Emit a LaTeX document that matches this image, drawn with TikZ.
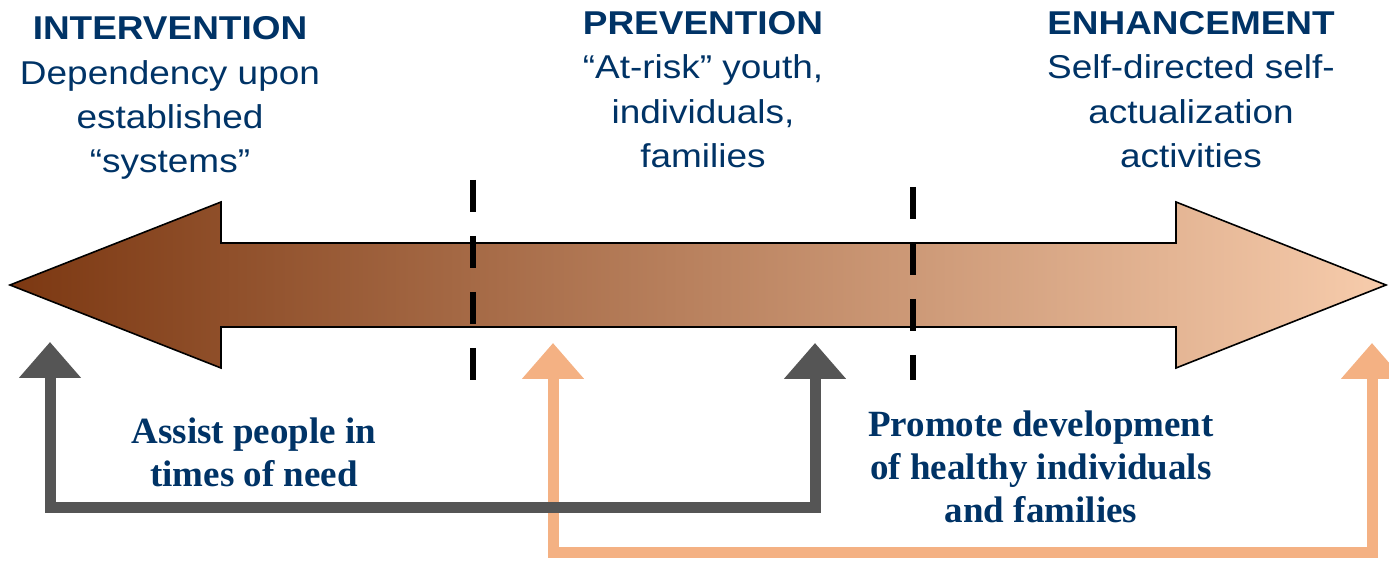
\documentclass[tikz,border=0pt]{standalone}
\usepackage{fontspec}
\setmainfont{Liberation Serif}
\newfontfamily\arialw[FakeStretch=1.12]{Liberation Sans}
\usetikzlibrary{arrows.meta}
\definecolor{navy}{RGB}{0,51,102}
\definecolor{arrgray}{RGB}{85,85,85}
\definecolor{arrorange}{RGB}{244,177,131}
\definecolor{brownL}{RGB}{124,56,18}
\definecolor{brownR}{RGB}{247,204,172}
\begin{document}
\begin{tikzpicture}[x=0.5pt,y=-0.5pt,
  headtxt/.style={font=\arialw\bfseries\fontsize{16.5}{20}\selectfont, text=navy, anchor=base, inner sep=0pt},
  bodytxt/.style={font=\arialw\fontsize{16.5}{20}\selectfont, text=navy, anchor=base, inner sep=0pt},
  notetxt/.style={font=\bfseries\fontsize{18.5}{22}\selectfont, text=navy, anchor=base, inner sep=0pt},
  divider/.style={line width=3.2pt, dash pattern=on 16pt off 12pt},
  loopline/.style={line width=5.5pt, {Triangle[width=30pt,length=18pt]}-{Triangle[width=30pt,length=18pt]}},
  bigarrow/.style={left color=brownL, right color=brownR, draw=black, line width=0.8pt}
]
\useasboundingbox (0,0) rectangle (1389,561);

% main double arrow
\shadedraw[bigarrow] (10,285) -- (221,202) -- (221,243) -- (1176,243) -- (1176,202)
  -- (1386,285) -- (1176,368) -- (1176,327) -- (221,327) -- (221,368) -- cycle;

% dividers
\coordinate (d1t) at (473,180);
\coordinate (d1b) at (473,380);
\coordinate (d2t) at (913,187);
\coordinate (d2b) at (913,380);
\draw[divider] (d1t) -- (d1b);
\draw[divider] (d2t) -- (d2b);

% orange loop
\coordinate (oL) at (553,343);
\coordinate (oLb) at (553,553);
\coordinate (oRb) at (1372,553);
\coordinate (oR) at (1372,343);
\draw[loopline, arrorange] (oL) -- (oLb) -- (oRb) -- (oR);

% gray loop
\coordinate (gL) at (50,342);
\coordinate (gLb) at (50,508);
\coordinate (gRb) at (815,508);
\coordinate (gR) at (815,343);
\draw[loopline, arrgray] (gL) -- (gLb) -- (gRb) -- (gR);

% left column
\node[headtxt] (int0) at (170,40) {INTERVENTION};
\node[bodytxt] (int1) at (170,85) {Dependency upon};
\node[bodytxt] (int2) at (170,129) {established};
\node[bodytxt] (int3) at (170,173) {“systems”};

% center column
\node[headtxt] (pre0) at (703,35) {PREVENTION};
\node[bodytxt] (pre1) at (703,79) {“At-risk” youth,};
\node[bodytxt] (pre2) at (703,124) {individuals,};
\node[bodytxt] (pre3) at (703,168) {families};

% right column
\node[headtxt] (enh0) at (1191,35) {ENHANCEMENT};
\node[bodytxt] (enh1) at (1191,79) {Self-directed self-};
\node[bodytxt] (enh2) at (1191,124) {actualization};
\node[bodytxt] (enh3) at (1191,168) {activities};

% bottom notes
\node[notetxt] (as1) at (254,444) {Assist people in};
\node[notetxt] (as2) at (254,487) {times of need};
\node[notetxt] (pr1) at (1041,437) {Promote development};
\node[notetxt] (pr2) at (1041,480) {of healthy individuals};
\node[notetxt] (pr3) at (1041,523) {and families};
\end{tikzpicture}
\end{document}
